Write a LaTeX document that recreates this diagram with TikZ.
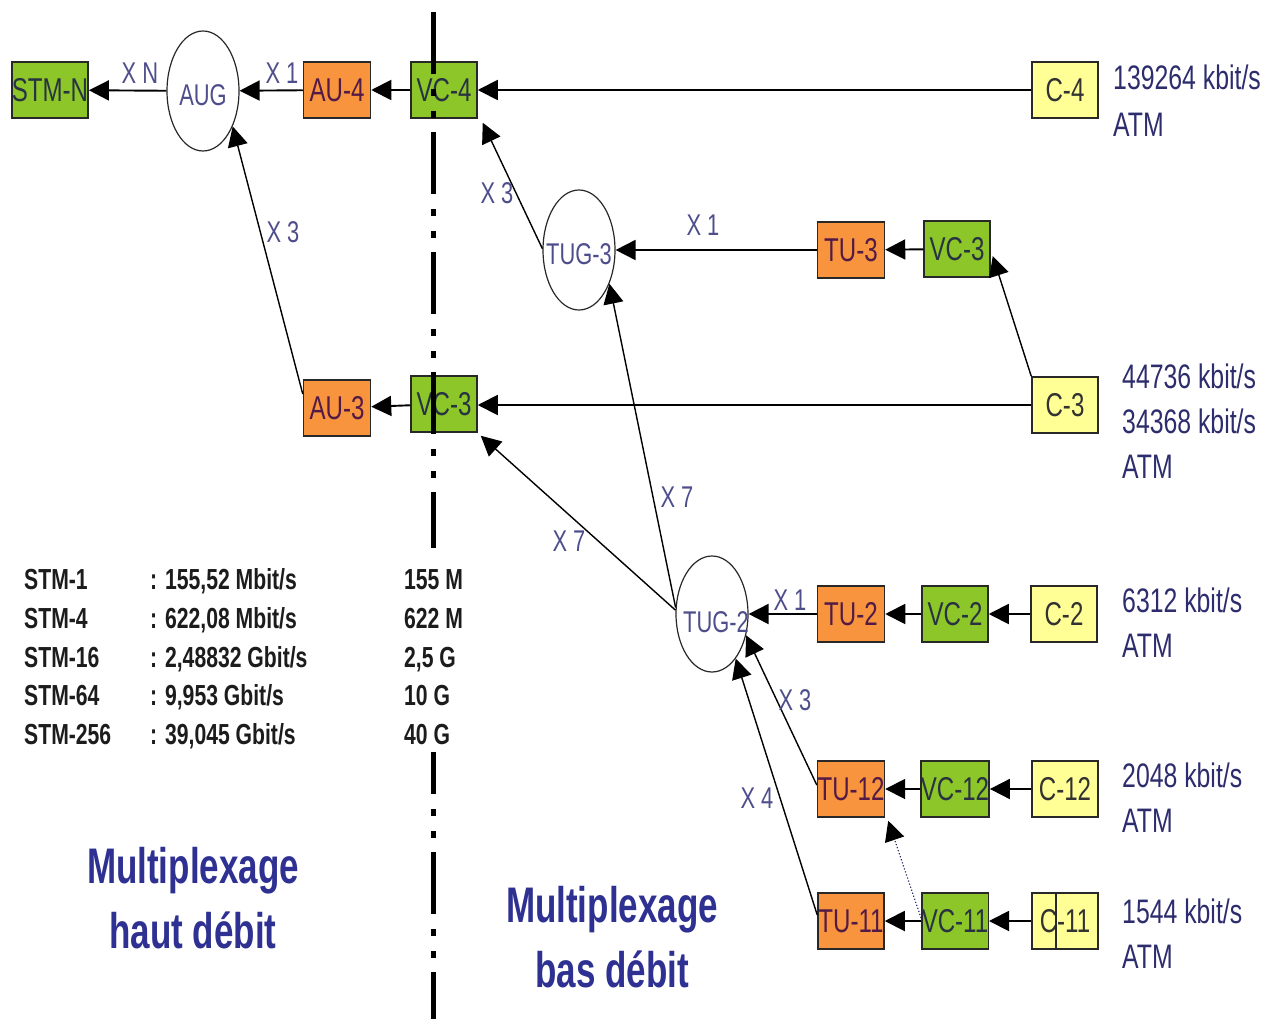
\documentclass[tikz,border=0pt]{standalone}
\usepackage{fontspec}
\setmainfont{Liberation Sans}
\newfontfamily\narrowf[FakeStretch=0.73]{Liberation Sans}
\newfontfamily\titlef[FakeStretch=0.70]{Liberation Sans}
\usetikzlibrary{shapes.geometric,arrows.meta}

\definecolor{vcgreen}{RGB}{140,198,40}
\definecolor{tuorange}{RGB}{247,148,61}
\definecolor{cyellow}{RGB}{255,255,150}
\definecolor{edgegray}{RGB}{40,40,40}
\definecolor{labblue}{RGB}{78,78,140}
\definecolor{ratenavy}{RGB}{45,45,110}
\definecolor{titleblue}{RGB}{46,49,146}
\definecolor{vctext}{RGB}{40,50,66}
\definecolor{tutext}{RGB}{84,26,70}
\definecolor{ctext}{RGB}{50,50,50}
\definecolor{tbltext}{RGB}{28,28,28}

\tikzset{
  base/.style={draw=edgegray, line width=1.5pt, minimum width=66pt,
    minimum height=56pt, inner sep=0pt,
    font=\narrowf\fontsize{33}{36}\selectfont},
  vcbox/.style={base, fill=vcgreen, text=vctext},
  tubox/.style={base, fill=tuorange, text=tutext},
  cbox/.style={base, fill=cyellow, text=ctext},
  ring/.style={ellipse, draw=edgegray, line width=1.2pt, minimum width=72pt,
    minimum height=120pt, inner sep=0pt},
  ringtext/.style={text=labblue, font=\narrowf\fontsize{30}{32}\selectfont},
  xlab/.style={text=labblue, inner sep=0pt, font=\narrowf\fontsize{30}{32}\selectfont},
  rate/.style={anchor=base west, inner sep=0pt, text=ratenavy,
    font=\narrowf\fontsize{34}{36}\selectfont},
  tbl/.style={anchor=base west, inner sep=0pt, text=tbltext,
    font=\narrowf\bfseries\fontsize{29}{32}\selectfont},
  bigtitle/.style={anchor=base, inner sep=0pt, text=titleblue,
    font=\titlef\bfseries\fontsize{50}{56}\selectfont},
  hconn/.style={draw=black, line width=1.9pt, -{Triangle[length=20pt,width=20pt]}},
  dconn/.style={draw=black, line width=1.4pt, -{Triangle[length=20pt,width=20pt]}},
  dotconn/.style={draw=ratenavy, line width=1.2pt, dotted,
    -{Triangle[length=20pt,width=20pt,fill=black,color=black]}},
}

\begin{document}
\begin{tikzpicture}[x=1pt,y=1pt]
\useasboundingbox (0,0) rectangle (1269,-1019);
\fill[white] (0,0) rectangle (1269,-1019);

% high order path
\node[vcbox, minimum width=75pt] (stmn) at (50,-90) {STM-N};
\node[ring, label={[ringtext, yshift=-4pt]center:AUG}] (aug) at (203,-91) {};
\node[tubox, minimum width=67pt] (au4) at (337,-90) {AU-4};
\node[vcbox] (vc4) at (444,-90) {VC-4};
\node[cbox] (c4) at (1065,-90) {C-4};

\node[tubox, minimum width=67pt] (au3) at (337,-408) {AU-3};
\node[vcbox] (vc3) at (444,-404) {VC-3};
\node[cbox] (c3) at (1065,-405) {C-3};

% low order path
\node[ring, label={[ringtext, yshift=-4pt]center:TUG-3}] (tug3) at (579,-250) {};
\node[tubox, minimum width=67pt] (tu3) at (851,-250) {TU-3};
\node[vcbox] (vc3hi) at (957,-249) {VC-3};

\node[ring, minimum height=116pt, label={[ringtext, xshift=4pt, yshift=-8pt]center:TUG-2}] (tug2) at (712,-614) {};
\node[tubox, minimum width=67pt] (tu2) at (851,-614) {TU-2};
\node[vcbox] (vc2) at (955,-614) {VC-2};
\node[cbox] (c2) at (1064,-614) {C-2};

\node[tubox] (tu12) at (851,-789) {TU-12};
\node[vcbox] (vc12) at (955,-789) {VC-12};
\node[cbox] (c12) at (1065,-789) {C-12};

\node[tubox] (tu11) at (851,-921) {TU-11};
\node[vcbox] (vc11) at (955,-921) {VC-11};
\node[cbox] (c11) at (1065,-921) {C-11};
\draw[edgegray, line width=1.2pt] ([xshift=-9pt]c11.north) -- ([xshift=-9pt]c11.south);

% horizontal mapping arrows
\draw[hconn] (c4) -- (vc4);
\draw[hconn] (vc4) -- (au4);
\draw[hconn] (au4) -- (aug);
\draw[hconn] (aug) -- (stmn);
\draw[hconn] (c3.west) -- (vc3.east |- c3.west);
\draw[hconn] (vc3) -- (au3);
\draw[hconn] (vc3hi) -- (tu3);
\draw[hconn] (tu3) -- (tug3);
\draw[hconn] (c2) -- (vc2);
\draw[hconn] (vc2) -- (tu2);
\draw[hconn] (tu2) -- (tug2);
\draw[hconn] (c12) -- (vc12);
\draw[hconn] (vc12) -- (tu12);
\draw[hconn] (c11) -- (vc11);
\draw[hconn] (vc11) -- (tu11);

% multiplexing arrows
\draw[dconn] ([yshift=14pt]au3.west) -- (aug.-50);
\draw[dconn] (tug3.178) -- ([xshift=5pt,yshift=-4pt]vc4.south east);
\draw[dconn] (c3.north west) -- ([xshift=2pt,yshift=-7pt]vc3hi.east);
\draw[dconn] (tug2.174) -- ([xshift=3pt,yshift=-3pt]vc3.south east);
\draw[dconn] (tug2.170) -- (tug3.-48);
\draw[dconn] ([yshift=4pt]tu12.west) -- (tug2.-32);
\draw[dconn] ([yshift=6pt]tu11.west) -- (tug2.-62);
\draw[dotconn] ([yshift=3pt]vc11.west) -- ([xshift=3pt,yshift=-3pt]tu12.south east);

% multiplicity labels
\node[xlab] (lxn) at (140,-73) {X N};
\node[xlab] (lx1a) at (282,-73) {X 1};
\node[xlab] (lx3a) at (283,-232) {X 3};
\node[xlab] (lx3b) at (497,-193) {X 3};
\node[xlab] (lx1b) at (703,-225) {X 1};
\node[xlab] (lx7a) at (677,-497) {X 7};
\node[xlab] (lx7b) at (569,-541) {X 7};
\node[xlab] (lx1c) at (790,-600) {X 1};
\node[xlab] (lx3c) at (795,-700) {X 3};
\node[xlab] (lx4) at (757,-798) {X 4};

% boundary between high and low order multiplexing
\draw[line width=5pt, dash pattern=on 62pt off 15pt on 7pt off 15pt on 7pt off 14pt]
  (433,-12) -- (433,-1030);
\fill[white] (423,-548) rectangle (443,-752);

% container rates
\node[rate] (r4a) at (1113,-90) {139264 kbit/s};
\node[rate] (r4b) at (1113,-137) {ATM};
\node[rate] (r3a) at (1122,-388) {44736 kbit/s};
\node[rate] (r3b) at (1122,-433) {34368 kbit/s};
\node[rate] (r3c) at (1122,-478) {ATM};
\node[rate] (r2a) at (1122,-612) {6312 kbit/s};
\node[rate] (r2b) at (1122,-657) {ATM};
\node[rate] (r12a) at (1122,-787) {2048 kbit/s};
\node[rate] (r12b) at (1122,-832) {ATM};
\node[rate] (r11a) at (1122,-923) {1544 kbit/s};
\node[rate] (r11b) at (1122,-968) {ATM};

% STM-N line rates
\node[tbl] (t1a) at (24,-589) {STM-1};
\node[tbl] (t1b) at (150,-589) {: 155,52 Mbit/s};
\node[tbl] (t1c) at (404,-589) {155 M};
\node[tbl] (t2a) at (24,-628) {STM-4};
\node[tbl] (t2b) at (150,-628) {: 622,08 Mbit/s};
\node[tbl] (t2c) at (404,-628) {622 M};
\node[tbl] (t3a) at (24,-667) {STM-16};
\node[tbl] (t3b) at (150,-667) {: 2,48832 Gbit/s};
\node[tbl] (t3c) at (404,-667) {2,5 G};
\node[tbl] (t4a) at (24,-705) {STM-64};
\node[tbl] (t4b) at (150,-705) {: 9,953 Gbit/s};
\node[tbl] (t4c) at (404,-705) {10 G};
\node[tbl] (t5a) at (24,-744) {STM-256};
\node[tbl] (t5b) at (150,-744) {: 39,045 Gbit/s};
\node[tbl] (t5c) at (404,-744) {40 G};

% section titles
\node[bigtitle] (hd1) at (193,-883) {Multiplexage};
\node[bigtitle] (hd2) at (193,-948) {haut débit};
\node[bigtitle] (bd1) at (612,-922) {Multiplexage};
\node[bigtitle] (bd2) at (612,-987) {bas débit};
\end{tikzpicture}
\end{document}
